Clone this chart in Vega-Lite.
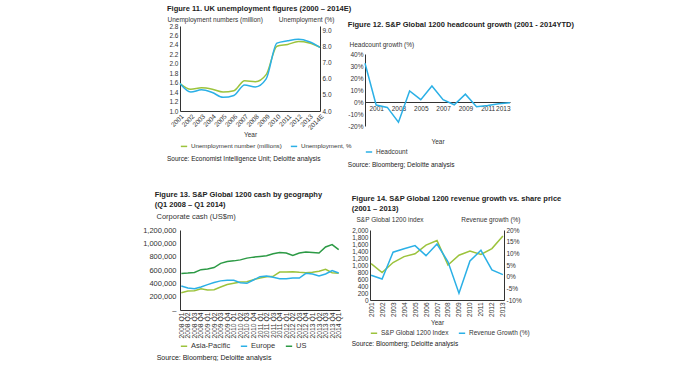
{
  "$schema": "https://vega.github.io/schema/vega-lite/v6.json",
  "background": "white",
  "padding": {"left": 142, "top": 4, "right": 0, "bottom": 0},
  "spacing": 22,
  "align": "none",
  "resolve": {"scale": {"color": "independent"}, "legend": {"color": "independent"}},
  "vconcat": [
    {
      "spacing": -5,
      "align": "none",
      "resolve": {"scale": {"color": "independent"}, "legend": {"color": "independent"}},
      "hconcat": [
        {
          "title": {"text": "Figure 11. UK unemployment figures (2000 – 2014E)"},
          "resolve": {"scale": {"color": "independent"}, "legend": {"color": "independent"}},
          "vconcat": [
            {
              "title": {"text": "Source: Economist Intelligence Unit; Deloitte analysis", "orient": "bottom", "fontWeight": "normal", "fontSize": 6.5, "anchor": "start", "offset": 6},
              "width": 140,
              "height": 85,
              "data": {"values": [
                {"year": "2001", "num": 1.58, "pct": 5.71},
                {"year": "2002", "num": 1.46, "pct": 5.18},
                {"year": "2003", "num": 1.49, "pct": 5.32},
                {"year": "2004", "num": 1.46, "pct": 5.15},
                {"year": "2005", "num": 1.40, "pct": 4.85},
                {"year": "2006", "num": 1.43, "pct": 4.97},
                {"year": "2007", "num": 1.64, "pct": 5.62},
                {"year": "2008", "num": 1.62, "pct": 5.50},
                {"year": "2009", "num": 1.77, "pct": 6.00},
                {"year": "2010", "num": 2.37, "pct": 8.23},
                {"year": "2011", "num": 2.41, "pct": 8.38},
                {"year": "2012", "num": 2.47, "pct": 8.47},
                {"year": "2013", "num": 2.44, "pct": 8.32},
                {"year": "2014E", "num": 2.35, "pct": 7.97}
              ]},
              "encoding": {
                "x": {"field": "year", "type": "ordinal", "scale": {"type": "point", "padding": 0},
                      "axis": {"title": "Year", "labelAngle": -45, "titlePadding": 1}}
              },
              "layer": [
                {
                  "mark": {"type": "line", "interpolate": "monotone", "strokeWidth": 1.5},
                  "encoding": {
                    "y": {"field": "num", "type": "quantitative", "scale": {"domain": [1, 2.8], "nice": false, "zero": false},
                          "axis": {"title": "Unemployment numbers (million)", "titleAngle": 0, "titleAlign": "left", "titleBaseline": "bottom", "titleX": -13, "titleY": -4,
                                   "values": [1, 1.2, 1.4, 1.6, 1.8, 2, 2.2, 2.4, 2.6, 2.8]}},
                    "color": {"datum": "Unemployment number (millions)",
                              "scale": {"domain": ["Unemployment number (millions)", "Unemployment, %"], "range": ["#9cc33c", "#2bb0e6"]},
                              "legend": {"labelFontSize": 6.2, "columnPadding": 5}}
                  }
                },
                {
                  "mark": {"type": "line", "interpolate": "monotone", "strokeWidth": 1.5},
                  "encoding": {
                    "y": {"field": "pct", "type": "quantitative", "scale": {"domain": [4, 9.3], "nice": false, "zero": false},
                          "axis": {"orient": "right", "title": "Unemployment (%)", "titleAngle": 0, "titleAlign": "right", "titleBaseline": "bottom", "titleX": 14, "titleY": -4,
                                   "values": [4, 5, 6, 7, 8, 9], "format": ".1f"}},
                    "color": {"datum": "Unemployment, %"}
                  }
                }
              ],
              "resolve": {"scale": {"y": "independent"}}
            }
          ]
        },
        {
          "title": {"text": "Figure 12. S&P Global 1200 headcount growth (2001 - 2014YTD)", "dy": 6},
          "resolve": {"scale": {"color": "independent"}, "legend": {"color": "independent"}},
          "vconcat": [
            {
              "title": {"text": "Source: Bloomberg; Deloitte analysis", "orient": "bottom", "fontWeight": "normal", "fontSize": 6.5, "anchor": "start", "offset": 6},
              "width": 145,
              "height": 100,
              "data": {"values": [
                {"year": 2000, "v": 32.3},
                {"year": 2001, "v": -2.5},
                {"year": 2002, "v": -4.5},
                {"year": 2003, "v": -16.8},
                {"year": 2004, "v": 9.2},
                {"year": 2005, "v": 2.0},
                {"year": 2006, "v": 13.4},
                {"year": 2007, "v": 2.0},
                {"year": 2008, "v": -2.3},
                {"year": 2009, "v": 6.5},
                {"year": 2010, "v": -4.0},
                {"year": 2011, "v": -2.9},
                {"year": 2012, "v": -1.4},
                {"year": 2013, "v": -0.6}
              ]},
              "mark": {"type": "line", "strokeWidth": 1.5},
              "encoding": {
                "x": {"field": "year", "type": "quantitative", "scale": {"domain": [2000, 2013], "nice": false, "zero": false},
                      "axis": {"title": "Year", "values": [2001, 2003, 2005, 2007, 2009, 2011, 2013], "format": "d", "offset": -24, "titleY": 36, "labelPadding": 3}},
                "y": {"field": "v", "type": "quantitative", "scale": {"domain": [-20, 40], "nice": false, "range": [100, 28]},
                      "axis": {"title": "Headcount growth (%)", "titleAngle": 0, "titleAlign": "left", "titleBaseline": "bottom", "titleX": -16, "titleY": 21,
                               "values": [-20, -10, 0, 10, 20, 30, 40], "labelExpr": "datum.value + '%'"}},
                "color": {"datum": "Headcount", "scale": {"domain": ["Headcount"], "range": ["#2bb0e6"]}}
              }
            }
          ]
        }
      ]
    },
    {
      "spacing": 8,
      "align": "none",
      "resolve": {"scale": {"color": "independent"}, "legend": {"color": "independent"}},
      "hconcat": [
        {
          "title": {"text": ["Figure 13. S&P Global 1200 cash by geography", "(Q1 2008 – Q1 2014)"], "dx": 12},
          "resolve": {"scale": {"color": "independent"}, "legend": {"color": "independent"}},
          "vconcat": [
            {
              "title": {"text": "Source: Bloomberg; Deloitte analysis", "orient": "bottom", "fontWeight": "normal", "fontSize": 7, "anchor": "start", "offset": 4, "dx": 14},
              "width": 160,
              "height": 80,
              "data": {"values": [
                {"q": "2008 Q1", "r": "Asia-Pacific", "v": 259000}, {"q": "2008 Q2", "r": "Asia-Pacific", "v": 285000}, {"q": "2008 Q3", "r": "Asia-Pacific", "v": 290000}, {"q": "2008 Q4", "r": "Asia-Pacific", "v": 320000},
                {"q": "2009 Q1", "r": "Asia-Pacific", "v": 300000}, {"q": "2009 Q2", "r": "Asia-Pacific", "v": 305000}, {"q": "2009 Q3", "r": "Asia-Pacific", "v": 346000}, {"q": "2009 Q4", "r": "Asia-Pacific", "v": 381000},
                {"q": "2010 Q1", "r": "Asia-Pacific", "v": 400000}, {"q": "2010 Q2", "r": "Asia-Pacific", "v": 420000}, {"q": "2010 Q3", "r": "Asia-Pacific", "v": 425000}, {"q": "2010 Q4", "r": "Asia-Pacific", "v": 455000},
                {"q": "2011 Q1", "r": "Asia-Pacific", "v": 480000}, {"q": "2011 Q2", "r": "Asia-Pacific", "v": 500000}, {"q": "2011 Q3", "r": "Asia-Pacific", "v": 505000}, {"q": "2011 Q4", "r": "Asia-Pacific", "v": 570000},
                {"q": "2012 Q1", "r": "Asia-Pacific", "v": 570000}, {"q": "2012 Q2", "r": "Asia-Pacific", "v": 575000}, {"q": "2012 Q3", "r": "Asia-Pacific", "v": 565000}, {"q": "2012 Q4", "r": "Asia-Pacific", "v": 560000},
                {"q": "2013 Q1", "r": "Asia-Pacific", "v": 565000}, {"q": "2013 Q2", "r": "Asia-Pacific", "v": 580000}, {"q": "2013 Q3", "r": "Asia-Pacific", "v": 610000}, {"q": "2013 Q4", "r": "Asia-Pacific", "v": 560000},
                {"q": "2014 Q1", "r": "Asia-Pacific", "v": 550000},
                {"q": "2008 Q1", "r": "Europe", "v": 361000}, {"q": "2008 Q2", "r": "Europe", "v": 330000}, {"q": "2008 Q3", "r": "Europe", "v": 320000}, {"q": "2008 Q4", "r": "Europe", "v": 346000},
                {"q": "2009 Q1", "r": "Europe", "v": 381000}, {"q": "2009 Q2", "r": "Europe", "v": 412000}, {"q": "2009 Q3", "r": "Europe", "v": 437000}, {"q": "2009 Q4", "r": "Europe", "v": 447000},
                {"q": "2010 Q1", "r": "Europe", "v": 447000}, {"q": "2010 Q2", "r": "Europe", "v": 410000}, {"q": "2010 Q3", "r": "Europe", "v": 400000}, {"q": "2010 Q4", "r": "Europe", "v": 450000},
                {"q": "2011 Q1", "r": "Europe", "v": 500000}, {"q": "2011 Q2", "r": "Europe", "v": 510000}, {"q": "2011 Q3", "r": "Europe", "v": 490000}, {"q": "2011 Q4", "r": "Europe", "v": 470000},
                {"q": "2012 Q1", "r": "Europe", "v": 470000}, {"q": "2012 Q2", "r": "Europe", "v": 480000}, {"q": "2012 Q3", "r": "Europe", "v": 480000}, {"q": "2012 Q4", "r": "Europe", "v": 550000},
                {"q": "2013 Q1", "r": "Europe", "v": 540000}, {"q": "2013 Q2", "r": "Europe", "v": 510000}, {"q": "2013 Q3", "r": "Europe", "v": 540000}, {"q": "2013 Q4", "r": "Europe", "v": 590000},
                {"q": "2014 Q1", "r": "Europe", "v": 555000},
                {"q": "2008 Q1", "r": "US", "v": 549000}, {"q": "2008 Q2", "r": "US", "v": 555000}, {"q": "2008 Q3", "r": "US", "v": 564000}, {"q": "2008 Q4", "r": "US", "v": 605000},
                {"q": "2009 Q1", "r": "US", "v": 615000}, {"q": "2009 Q2", "r": "US", "v": 636000}, {"q": "2009 Q3", "r": "US", "v": 700000}, {"q": "2009 Q4", "r": "US", "v": 727000},
                {"q": "2010 Q1", "r": "US", "v": 737000}, {"q": "2010 Q2", "r": "US", "v": 752000}, {"q": "2010 Q3", "r": "US", "v": 778000}, {"q": "2010 Q4", "r": "US", "v": 793000},
                {"q": "2011 Q1", "r": "US", "v": 803000}, {"q": "2011 Q2", "r": "US", "v": 813000}, {"q": "2011 Q3", "r": "US", "v": 844000}, {"q": "2011 Q4", "r": "US", "v": 864000},
                {"q": "2012 Q1", "r": "US", "v": 854000}, {"q": "2012 Q2", "r": "US", "v": 818000}, {"q": "2012 Q3", "r": "US", "v": 854000}, {"q": "2012 Q4", "r": "US", "v": 869000},
                {"q": "2013 Q1", "r": "US", "v": 864000}, {"q": "2013 Q2", "r": "US", "v": 854000}, {"q": "2013 Q3", "r": "US", "v": 946000}, {"q": "2013 Q4", "r": "US", "v": 981000},
                {"q": "2014 Q1", "r": "US", "v": 905000}
              ]},
              "mark": {"type": "line", "strokeWidth": 1.5},
              "encoding": {
                "x": {"field": "q", "type": "ordinal", "scale": {"type": "point", "padding": 0.2},
                      "axis": {"title": null, "labelAngle": -90, "labelFontSize": 6.8}},
                "y": {"field": "v", "type": "quantitative", "scale": {"domain": [0, 1200000], "nice": false},
                      "axis": {"title": "Corporate cash (US$m)", "titleAngle": 0, "titleAlign": "left", "titleBaseline": "bottom", "titleX": -24, "titleY": -10, "titleFontSize": 7.5,
                               "labelFontSize": 7.5, "labelPadding": 4, "values": [0, 200000, 400000, 600000, 800000, 1000000, 1200000],
                               "labelExpr": "datum.value == 0 ? '–' : format(datum.value, ',')"}},
                "color": {"field": "r", "type": "nominal",
                          "scale": {"domain": ["Asia-Pacific", "Europe", "US"], "range": ["#9cc33c", "#2bb0e6", "#2c9a45"]},
                          "legend": {"labelFontSize": 7.5}}
              }
            }
          ]
        },
        {
          "title": {"text": ["Figure 14. S&P Global 1200 revenue growth vs. share price", "(2001 – 2013)"]},
          "resolve": {"scale": {"color": "independent"}, "legend": {"color": "independent"}},
          "vconcat": [
            {
              "title": {"text": "Source: Bloomberg; Deloitte analysis", "orient": "bottom", "fontWeight": "normal", "fontSize": 6.5, "anchor": "start", "offset": 4},
              "width": 134,
              "height": 70,
              "data": {"values": [
                {"year": "2001", "idx": 1040, "rev": 0.6},
                {"year": "2002", "idx": 785, "rev": -1.0},
                {"year": "2003", "idx": 1070, "rev": 10.5},
                {"year": "2004", "idx": 1240, "rev": 12.0},
                {"year": "2005", "idx": 1320, "rev": 13.3},
                {"year": "2006", "idx": 1570, "rev": 9.0},
                {"year": "2007", "idx": 1700, "rev": 14.0},
                {"year": "2008", "idx": 1000, "rev": 6.4},
                {"year": "2009", "idx": 1280, "rev": -7.1},
                {"year": "2010", "idx": 1400, "rev": 6.7},
                {"year": "2011", "idx": 1300, "rev": 11.3},
                {"year": "2012", "idx": 1470, "rev": 2.9},
                {"year": "2013", "idx": 1830, "rev": 0.9}
              ]},
              "encoding": {
                "x": {"field": "year", "type": "ordinal", "scale": {"type": "point", "padding": 0.1},
                      "axis": {"title": "Year", "labelAngle": -90, "titlePadding": 3}}
              },
              "layer": [
                {
                  "mark": {"type": "line", "strokeWidth": 1.5},
                  "encoding": {
                    "y": {"field": "idx", "type": "quantitative", "scale": {"domain": [0, 2000], "nice": false},
                          "axis": {"title": "S&P Global 1200 index", "titleAngle": 0, "titleAlign": "left", "titleBaseline": "bottom", "titleX": -14, "titleY": -8,
                                   "values": [0, 200, 400, 600, 800, 1000, 1200, 1400, 1600, 1800, 2000], "labelExpr": "format(datum.value, ',')"}},
                    "color": {"datum": "S&P Global 1200 Index",
                              "scale": {"domain": ["S&P Global 1200 Index", "Revenue Growth (%)"], "range": ["#9cc33c", "#2bb0e6"]}}
                  }
                },
                {
                  "mark": {"type": "line", "strokeWidth": 1.5},
                  "encoding": {
                    "y": {"field": "rev", "type": "quantitative", "scale": {"domain": [-10, 20], "nice": false},
                          "axis": {"orient": "right", "title": "Revenue growth (%)", "titleAngle": 0, "titleAlign": "right", "titleBaseline": "bottom", "titleX": 16, "titleY": -8,
                                   "values": [-10, -5, 0, 5, 10, 15, 20], "labelExpr": "datum.value + '%'"}},
                    "color": {"datum": "Revenue Growth (%)"}
                  }
                }
              ],
              "resolve": {"scale": {"y": "independent"}}
            }
          ]
        }
      ]
    }
  ],
  "config": {
    "font": "Liberation Sans Narrow, Liberation Sans, sans-serif",
    "view": {"stroke": null},
    "axis": {"grid": false, "ticks": false, "labelFontSize": 6.5, "titleFontSize": 6.5, "titleFontWeight": "normal",
             "domainColor": "#333", "labelColor": "#333", "titleColor": "#333", "labelPadding": 2},
    "title": {"fontSize": 7.5, "anchor": "start", "fontWeight": "bold", "color": "#222", "offset": 4},
    "legend": {"orient": "bottom", "direction": "horizontal", "title": null, "symbolType": "stroke", "symbolStrokeWidth": 1.5,
               "symbolSize": 40, "labelFontSize": 6.5, "labelColor": "#333", "columnPadding": 6, "labelOffset": 3, "offset": 3, "padding": 0}
  }
}
